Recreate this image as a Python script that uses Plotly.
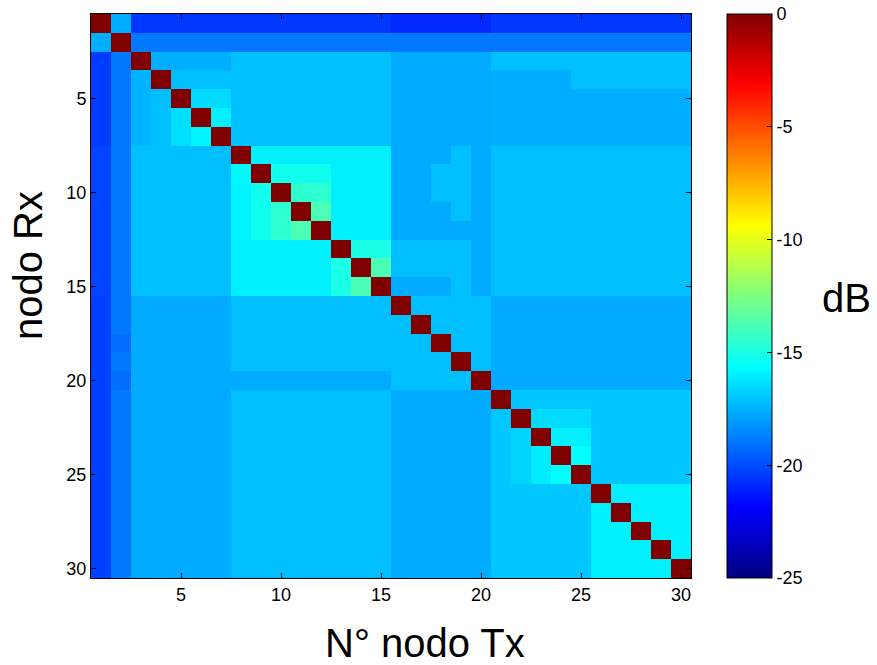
import plotly.graph_objects as go

# Node indices (Tx = columns, Rx = rows)
tx_nodes = list(range(1, 31))
rx_nodes = list(range(1, 31))

# Received level in dB, rows = Rx node 1..30, columns = Tx node 1..30
row01 = [0, -17.6, -20.5, -20.5, -20.5, -20.5, -20.5, -20.5, -20.5, -20.5, -20.5, -20.5, -20.5, -20.5, -20.5, -20.9, -20.9, -20.9, -20.9, -20.9, -20.5, -20.5, -20.5, -20.5, -20.5, -20.5, -20.5, -20.5, -20.5, -20.5]
row02 = [-17.6, 0, -18.9, -18.9, -18.9, -18.9, -18.9, -18.9, -18.9, -18.9, -18.9, -18.9, -18.9, -18.9, -18.9, -18.9, -18.9, -18.9, -18.9, -18.9, -18.9, -18.9, -18.9, -18.9, -18.9, -18.9, -18.9, -18.9, -18.9, -18.9]
row03 = [-20.4, -18.9, 0, -17.6, -17.6, -17.6, -17.6, -17.2, -17.2, -17.2, -17.2, -17.2, -17.2, -17.2, -17.2, -17.7, -17.7, -17.7, -17.7, -17.7, -17.2, -17.2, -17.2, -17.2, -17.2, -17.2, -17.2, -17.2, -17.2, -17.2]
row04 = [-20.4, -18.9, -17.5, 0, -17.2, -17.2, -17.2, -17.2, -17.2, -17.2, -17.2, -17.2, -17.2, -17.2, -17.2, -17.7, -17.7, -17.7, -17.7, -17.7, -17.6, -17.6, -17.6, -17.6, -17.2, -17.2, -17.2, -17.2, -17.2, -17.2]
row05 = [-20.4, -18.9, -17.5, -17.2, 0, -16.5, -16.5, -17.2, -17.2, -17.2, -17.2, -17.2, -17.2, -17.2, -17.2, -17.7, -17.7, -17.7, -17.7, -17.7, -17.6, -17.6, -17.6, -17.6, -17.6, -17.6, -17.6, -17.6, -17.6, -17.6]
row06 = [-20.4, -18.9, -17.5, -17.2, -16.4, 0, -16.0, -17.2, -17.2, -17.2, -17.2, -17.2, -17.2, -17.2, -17.2, -17.7, -17.7, -17.7, -17.7, -17.7, -17.6, -17.6, -17.6, -17.6, -17.6, -17.6, -17.6, -17.6, -17.6, -17.6]
row07 = [-20.4, -18.9, -17.5, -17.2, -16.4, -15.9, 0, -17.2, -17.2, -17.2, -17.2, -17.2, -17.2, -17.2, -17.2, -17.7, -17.7, -17.7, -17.7, -17.7, -17.6, -17.6, -17.6, -17.6, -17.6, -17.6, -17.6, -17.6, -17.6, -17.6]
row08 = [-20.2, -18.9, -17.2, -17.2, -17.2, -17.2, -17.2, 0, -16.0, -16.0, -16.0, -16.0, -16.0, -16.0, -16.0, -17.7, -17.7, -17.7, -17.2, -17.7, -17.2, -17.2, -17.2, -17.2, -17.2, -17.2, -17.2, -17.2, -17.2, -17.2]
row09 = [-20.2, -18.9, -17.2, -17.2, -17.2, -17.2, -17.2, -15.8, 0, -15.2, -15.2, -15.2, -16.0, -16.0, -16.0, -17.7, -17.7, -17.2, -17.2, -17.7, -17.2, -17.2, -17.2, -17.2, -17.2, -17.2, -17.2, -17.2, -17.2, -17.2]
row10 = [-20.2, -18.9, -17.2, -17.2, -17.2, -17.2, -17.2, -15.9, -15.2, 0, -14.5, -14.5, -16.0, -16.0, -16.0, -17.7, -17.7, -17.2, -17.2, -17.7, -17.2, -17.2, -17.2, -17.2, -17.2, -17.2, -17.2, -17.2, -17.2, -17.2]
row11 = [-20.2, -18.9, -17.2, -17.2, -17.2, -17.2, -17.2, -15.9, -15.2, -14.5, 0, -13.8, -16.0, -16.0, -16.0, -17.7, -17.7, -17.7, -17.2, -17.7, -17.2, -17.2, -17.2, -17.2, -17.2, -17.2, -17.2, -17.2, -17.2, -17.2]
row12 = [-20.2, -18.9, -17.2, -17.2, -17.2, -17.2, -17.2, -15.9, -15.2, -14.5, -13.8, 0, -16.0, -16.0, -16.0, -17.7, -17.7, -17.7, -17.7, -17.7, -17.2, -17.2, -17.2, -17.2, -17.2, -17.2, -17.2, -17.2, -17.2, -17.2]
row13 = [-20.2, -18.9, -17.2, -17.2, -17.2, -17.2, -17.2, -16.0, -16.0, -16.0, -16.0, -16.0, 0, -15.0, -15.0, -17.2, -17.2, -17.2, -17.2, -17.7, -17.2, -17.2, -17.2, -17.2, -17.2, -17.2, -17.2, -17.2, -17.2, -17.2]
row14 = [-20.2, -18.9, -17.2, -17.2, -17.2, -17.2, -17.2, -16.0, -16.0, -16.0, -16.0, -16.0, -15.0, 0, -13.8, -17.2, -17.2, -17.2, -17.2, -17.7, -17.2, -17.2, -17.2, -17.2, -17.2, -17.2, -17.2, -17.2, -17.2, -17.2]
row15 = [-20.2, -18.9, -17.2, -17.2, -17.2, -17.2, -17.2, -16.0, -16.0, -16.0, -16.0, -16.0, -15.0, -13.8, 0, -17.7, -17.7, -17.7, -17.2, -17.7, -17.2, -17.2, -17.2, -17.2, -17.2, -17.2, -17.2, -17.2, -17.2, -17.2]
row16 = [-20.3, -18.9, -17.7, -17.7, -17.7, -17.7, -17.7, -17.2, -17.2, -17.2, -17.2, -17.2, -17.2, -17.2, -17.2, 0, -17.2, -17.2, -17.2, -17.2, -17.7, -17.7, -17.7, -17.7, -17.7, -17.7, -17.7, -17.7, -17.7, -17.7]
row17 = [-20.3, -18.9, -17.7, -17.7, -17.7, -17.7, -17.7, -17.2, -17.2, -17.2, -17.2, -17.2, -17.2, -17.2, -17.2, -17.2, 0, -17.2, -17.2, -17.2, -17.7, -17.7, -17.7, -17.7, -17.7, -17.7, -17.7, -17.7, -17.7, -17.7]
row18 = [-20.3, -19.2, -17.7, -17.7, -17.7, -17.7, -17.7, -17.2, -17.2, -17.2, -17.2, -17.2, -17.2, -17.2, -17.2, -17.2, -17.2, 0, -17.2, -17.2, -17.7, -17.7, -17.7, -17.7, -17.7, -17.7, -17.7, -17.7, -17.7, -17.7]
row19 = [-20.3, -18.9, -17.7, -17.7, -17.7, -17.7, -17.7, -17.2, -17.2, -17.2, -17.2, -17.2, -17.2, -17.2, -17.2, -17.2, -17.2, -17.2, 0, -17.2, -17.7, -17.7, -17.7, -17.7, -17.7, -17.7, -17.7, -17.7, -17.7, -17.7]
row20 = [-20.3, -19.2, -17.7, -17.7, -17.7, -17.7, -17.7, -17.7, -17.7, -17.7, -17.7, -17.7, -17.7, -17.7, -17.7, -17.2, -17.2, -17.2, -17.2, 0, -17.7, -17.7, -17.7, -17.7, -17.7, -17.7, -17.7, -17.7, -17.7, -17.7]
row21 = [-20.3, -18.9, -17.7, -17.7, -17.7, -17.7, -17.7, -17.2, -17.2, -17.2, -17.2, -17.2, -17.2, -17.2, -17.2, -17.7, -17.7, -17.7, -17.7, -17.7, 0, -17.0, -17.0, -17.0, -17.0, -17.0, -17.0, -17.0, -17.0, -17.0]
row22 = [-20.3, -18.9, -17.7, -17.7, -17.7, -17.7, -17.7, -17.2, -17.2, -17.2, -17.2, -17.2, -17.2, -17.2, -17.2, -17.7, -17.7, -17.7, -17.7, -17.7, -17.0, 0, -16.5, -16.5, -16.5, -17.0, -17.0, -17.0, -17.0, -17.0]
row23 = [-20.3, -18.9, -17.7, -17.7, -17.7, -17.7, -17.7, -17.2, -17.2, -17.2, -17.2, -17.2, -17.2, -17.2, -17.2, -17.7, -17.7, -17.7, -17.7, -17.7, -17.0, -16.7, 0, -16.0, -16.0, -17.0, -17.0, -17.0, -17.0, -17.0]
row24 = [-20.3, -18.9, -17.7, -17.7, -17.7, -17.7, -17.7, -17.2, -17.2, -17.2, -17.2, -17.2, -17.2, -17.2, -17.2, -17.7, -17.7, -17.7, -17.7, -17.7, -17.0, -16.7, -16.1, 0, -15.6, -17.0, -17.0, -17.0, -17.0, -17.0]
row25 = [-20.3, -18.9, -17.7, -17.7, -17.7, -17.7, -17.7, -17.2, -17.2, -17.2, -17.2, -17.2, -17.2, -17.2, -17.2, -17.7, -17.7, -17.7, -17.7, -17.7, -17.0, -16.7, -16.1, -15.6, 0, -17.0, -17.0, -17.0, -17.0, -17.0]
row26 = [-20.3, -18.9, -17.7, -17.7, -17.7, -17.7, -17.7, -17.2, -17.2, -17.2, -17.2, -17.2, -17.2, -17.2, -17.2, -17.7, -17.7, -17.7, -17.7, -17.7, -17.0, -17.0, -17.0, -17.0, -17.0, 0, -16.0, -16.0, -16.0, -16.0]
row27 = [-20.3, -18.9, -17.7, -17.7, -17.7, -17.7, -17.7, -17.2, -17.2, -17.2, -17.2, -17.2, -17.2, -17.2, -17.2, -17.7, -17.7, -17.7, -17.7, -17.7, -17.0, -17.0, -17.0, -17.0, -17.0, -16.0, 0, -16.0, -16.0, -16.0]
row28 = [-20.3, -18.9, -17.7, -17.7, -17.7, -17.7, -17.7, -17.2, -17.2, -17.2, -17.2, -17.2, -17.2, -17.2, -17.2, -17.7, -17.7, -17.7, -17.7, -17.7, -17.0, -17.0, -17.0, -17.0, -17.0, -16.0, -16.0, 0, -16.0, -16.0]
row29 = [-20.3, -18.9, -17.7, -17.7, -17.7, -17.7, -17.7, -17.2, -17.2, -17.2, -17.2, -17.2, -17.2, -17.2, -17.2, -17.7, -17.7, -17.7, -17.7, -17.7, -17.0, -17.0, -17.0, -17.0, -17.0, -16.0, -16.0, -16.0, 0, -16.0]
row30 = [-20.3, -18.9, -17.7, -17.7, -17.7, -17.7, -17.7, -17.2, -17.2, -17.2, -17.2, -17.2, -17.2, -17.2, -17.2, -17.7, -17.7, -17.7, -17.7, -17.7, -17.0, -17.0, -17.0, -17.0, -17.0, -16.0, -16.0, -16.0, -16.0, 0]

z_db = [row01, row02, row03, row04, row05, row06, row07, row08, row09, row10,
        row11, row12, row13, row14, row15, row16, row17, row18, row19, row20,
        row21, row22, row23, row24, row25, row26, row27, row28, row29, row30]

axis_ticks = [5, 10, 15, 20, 25, 30]
cbar_ticks = [-25, -20, -15, -10, -5, 0]
cbar_ticktext = ["-25", "-20", "-15", "-10", "-5", "0"]

jet = [
    [0.0, "#000080"],
    [0.125, "#0000ff"],
    [0.375, "#00ffff"],
    [0.625, "#ffff00"],
    [0.875, "#ff0000"],
    [1.0, "#800000"],
]

W, H = 877, 665
L, T = 91, 14
PW, PH = 600, 564

tick_font = dict(family="Liberation Sans, Arial", size=18, color="black")
title_font = dict(family="Liberation Sans, Arial", size=40, color="black")

fig = go.Figure(
    go.Heatmap(
        x=tx_nodes,
        y=rx_nodes,
        z=z_db,
        zmin=-25,
        zmax=0,
        colorscale=jet,
        colorbar=dict(
            x=(727 - L) / PW,
            xanchor="left",
            y=0.5,
            yanchor="middle",
            len=1,
            lenmode="fraction",
            thickness=45,
            thicknessmode="pixels",
            xpad=0,
            ypad=0,
            outlinecolor="black",
            outlinewidth=1,
            ticks="inside",
            ticklen=5,
            tickcolor="black",
            tickvals=cbar_ticks,
            ticktext=cbar_ticktext,
            tickfont=tick_font,
            ticklabeloverflow="allow",
        ),
    )
)

fig.update_xaxes(
    range=[0.5, 30.5],
    tickvals=axis_ticks,
    ticks="inside",
    ticklen=5,
    tickcolor="black",
    showline=True,
    linecolor="black",
    linewidth=1,
    mirror="ticks",
    showgrid=False,
    zeroline=False,
    tickfont=tick_font,
)
fig.update_yaxes(
    range=[30.5, 0.5],
    tickvals=axis_ticks,
    ticks="inside",
    ticklen=5,
    tickcolor="black",
    showline=True,
    linecolor="black",
    linewidth=1,
    mirror="ticks",
    showgrid=False,
    zeroline=False,
    tickfont=tick_font,
)

# axis titles (placed as in the reference, which is not centred on the plot area)
fig.add_annotation(
    text="N° nodo Tx",
    xref="paper", yref="paper",
    x=(425 - L) / PW, y=(578 - 643) / PH,
    xanchor="center", yanchor="middle",
    showarrow=False, font=title_font,
)
fig.add_annotation(
    text="nodo Rx",
    xref="paper", yref="paper",
    x=(28 - L) / PW, y=(578 - 266) / PH,
    xanchor="center", yanchor="middle", textangle=-90,
    showarrow=False, font=title_font,
)
fig.add_annotation(
    text="dB",
    xref="paper", yref="paper",
    x=(846 - L) / PW, y=(578 - 298) / PH,
    xanchor="center", yanchor="middle",
    showarrow=False, font=title_font,
)

fig.update_layout(
    width=W,
    height=H,
    margin=dict(l=L, r=W - L - PW, t=T, b=H - T - PH),
    paper_bgcolor="white",
    plot_bgcolor="white",
)

fig.write_html(
    "out.html",
    config={"displayModeBar": False},
    post_script="document.body.style.margin='0';document.body.style.overflow='hidden';",
)
